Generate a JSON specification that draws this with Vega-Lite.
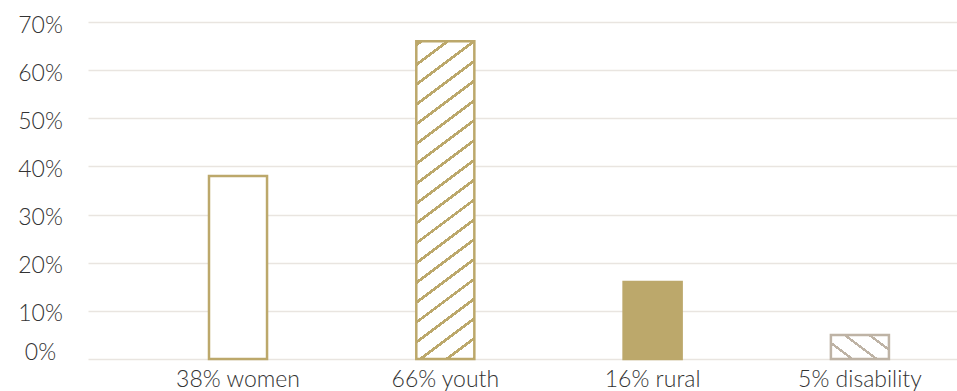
{
  "$schema": "https://vega.github.io/schema/vega-lite/v6.json",
  "width": 869,
  "height": 337,
  "autosize": {"type": "none"},
  "padding": {"left": 88, "top": 22, "right": 0, "bottom": 32},
  "background": "white",
  "config": {
    "view": {"stroke": null},
    "font": "Lato",
    "axis": {"labelFont": "Lato", "labelFontWeight": 300, "labelColor": "#333333", "labelFontSize": 23}
  },
  "data": {
    "values": [
      {"group": "38% women", "share": 38},
      {"group": "66% youth", "share": 66},
      {"group": "16% rural", "share": 16},
      {"group": "5% disability", "share": 5}
    ]
  },
  "encoding": {
    "x": {
      "field": "group",
      "type": "nominal",
      "sort": null,
      "scale": {
        "domain": ["38% women", "66% youth", "16% rural", "5% disability"],
        "paddingInner": 0.72,
        "paddingOuter": 0.456,
        "align": 0.64
      },
      "axis": {
        "title": null,
        "labelAngle": 0,
        "domain": false,
        "ticks": false,
        "tickSize": 0,
        "labelPadding": 9,
        "labelOverlap": false,
        "labelLimit": 300
      }
    },
    "y": {
      "field": "share",
      "type": "quantitative",
      "scale": {"domain": [0, 70], "nice": false},
      "axis": {
        "title": null,
        "values": [0, 10, 20, 30, 40, 50, 60, 70],
        "labelExpr": "datum.value + '%'",
        "domain": false,
        "ticks": false,
        "tickSize": 0,
        "labelAlign": "center",
        "labelBaseline": "middle",
        "labelPadding": 48,
        "labelOffset": {"condition": {"test": "datum.value === 0", "value": -7}, "value": 3},
        "labelOverlap": false,
        "gridColor": "#E9E5E0",
        "gridWidth": 1.5
      }
    }
  },
  "layer": [
    {
      "transform": [{"filter": "datum.group === '38% women'"}],
      "mark": {"type": "bar", "fill": "white", "stroke": "#BCA86B", "strokeWidth": 2.5}
    },
    {
      "transform": [{"filter": "datum.group === '66% youth'"}],
      "mark": {
        "type": "bar",
        "stroke": "#BCA86B",
        "strokeWidth": 2.5,
        "fill": {
          "gradient": "linear",
          "x1": 0, "y1": 0, "x2": 0.1529, "y2": 1.1161,
          "stops": [
            {"offset": 0, "color": "#FFFFFF"},
            {"offset": 0.0055, "color": "#FFFFFF"}, {"offset": 0.0055, "color": "#BCA86B"}, {"offset": 0.0151, "color": "#BCA86B"}, {"offset": 0.0151, "color": "#FFFFFF"},
            {"offset": 0.0604, "color": "#FFFFFF"}, {"offset": 0.0604, "color": "#BCA86B"}, {"offset": 0.0700, "color": "#BCA86B"}, {"offset": 0.0700, "color": "#FFFFFF"},
            {"offset": 0.1152, "color": "#FFFFFF"}, {"offset": 0.1152, "color": "#BCA86B"}, {"offset": 0.1248, "color": "#BCA86B"}, {"offset": 0.1248, "color": "#FFFFFF"},
            {"offset": 0.1701, "color": "#FFFFFF"}, {"offset": 0.1701, "color": "#BCA86B"}, {"offset": 0.1797, "color": "#BCA86B"}, {"offset": 0.1797, "color": "#FFFFFF"},
            {"offset": 0.2249, "color": "#FFFFFF"}, {"offset": 0.2249, "color": "#BCA86B"}, {"offset": 0.2345, "color": "#BCA86B"}, {"offset": 0.2345, "color": "#FFFFFF"},
            {"offset": 0.2798, "color": "#FFFFFF"}, {"offset": 0.2798, "color": "#BCA86B"}, {"offset": 0.2894, "color": "#BCA86B"}, {"offset": 0.2894, "color": "#FFFFFF"},
            {"offset": 0.3346, "color": "#FFFFFF"}, {"offset": 0.3346, "color": "#BCA86B"}, {"offset": 0.3442, "color": "#BCA86B"}, {"offset": 0.3442, "color": "#FFFFFF"},
            {"offset": 0.3895, "color": "#FFFFFF"}, {"offset": 0.3895, "color": "#BCA86B"}, {"offset": 0.3991, "color": "#BCA86B"}, {"offset": 0.3991, "color": "#FFFFFF"},
            {"offset": 0.4443, "color": "#FFFFFF"}, {"offset": 0.4443, "color": "#BCA86B"}, {"offset": 0.4539, "color": "#BCA86B"}, {"offset": 0.4539, "color": "#FFFFFF"},
            {"offset": 0.4992, "color": "#FFFFFF"}, {"offset": 0.4992, "color": "#BCA86B"}, {"offset": 0.5088, "color": "#BCA86B"}, {"offset": 0.5088, "color": "#FFFFFF"},
            {"offset": 0.5540, "color": "#FFFFFF"}, {"offset": 0.5540, "color": "#BCA86B"}, {"offset": 0.5636, "color": "#BCA86B"}, {"offset": 0.5636, "color": "#FFFFFF"},
            {"offset": 0.6089, "color": "#FFFFFF"}, {"offset": 0.6089, "color": "#BCA86B"}, {"offset": 0.6185, "color": "#BCA86B"}, {"offset": 0.6185, "color": "#FFFFFF"},
            {"offset": 0.6637, "color": "#FFFFFF"}, {"offset": 0.6637, "color": "#BCA86B"}, {"offset": 0.6733, "color": "#BCA86B"}, {"offset": 0.6733, "color": "#FFFFFF"},
            {"offset": 0.7186, "color": "#FFFFFF"}, {"offset": 0.7186, "color": "#BCA86B"}, {"offset": 0.7282, "color": "#BCA86B"}, {"offset": 0.7282, "color": "#FFFFFF"},
            {"offset": 0.7734, "color": "#FFFFFF"}, {"offset": 0.7734, "color": "#BCA86B"}, {"offset": 0.7830, "color": "#BCA86B"}, {"offset": 0.7830, "color": "#FFFFFF"},
            {"offset": 0.8283, "color": "#FFFFFF"}, {"offset": 0.8283, "color": "#BCA86B"}, {"offset": 0.8379, "color": "#BCA86B"}, {"offset": 0.8379, "color": "#FFFFFF"},
            {"offset": 0.8831, "color": "#FFFFFF"}, {"offset": 0.8831, "color": "#BCA86B"}, {"offset": 0.8927, "color": "#BCA86B"}, {"offset": 0.8927, "color": "#FFFFFF"},
            {"offset": 0.9380, "color": "#FFFFFF"}, {"offset": 0.9380, "color": "#BCA86B"}, {"offset": 0.9476, "color": "#BCA86B"}, {"offset": 0.9476, "color": "#FFFFFF"},
            {"offset": 0.9928, "color": "#FFFFFF"}, {"offset": 0.9928, "color": "#BCA86B"}, {"offset": 1, "color": "#BCA86B"}
          ]
        }
      }
    },
    {
      "transform": [{"filter": "datum.group === '16% rural'"}],
      "mark": {"type": "bar", "fill": "#BCA86B", "stroke": "#BCA86B", "strokeWidth": 2.5}
    },
    {
      "transform": [{"filter": "datum.group === '5% disability'"}],
      "mark": {
        "type": "bar",
        "stroke": "#BEB3A5",
        "strokeWidth": 2.5,
        "fill": {
          "gradient": "linear",
          "x1": 0, "y1": 1, "x2": 1.1897, "y2": 0.3436,
          "stops": [
            {"offset": 0, "color": "#FFFFFF"},
            {"offset": 0.216, "color": "#FFFFFF"}, {"offset": 0.216, "color": "#BEB3A5"}, {"offset": 0.260, "color": "#BEB3A5"}, {"offset": 0.260, "color": "#FFFFFF"},
            {"offset": 0.487, "color": "#FFFFFF"}, {"offset": 0.487, "color": "#BEB3A5"}, {"offset": 0.531, "color": "#BEB3A5"}, {"offset": 0.531, "color": "#FFFFFF"},
            {"offset": 0.758, "color": "#FFFFFF"}, {"offset": 0.758, "color": "#BEB3A5"}, {"offset": 0.802, "color": "#BEB3A5"}, {"offset": 0.802, "color": "#FFFFFF"},
            {"offset": 1, "color": "#FFFFFF"}
          ]
        }
      }
    }
  ]
}
